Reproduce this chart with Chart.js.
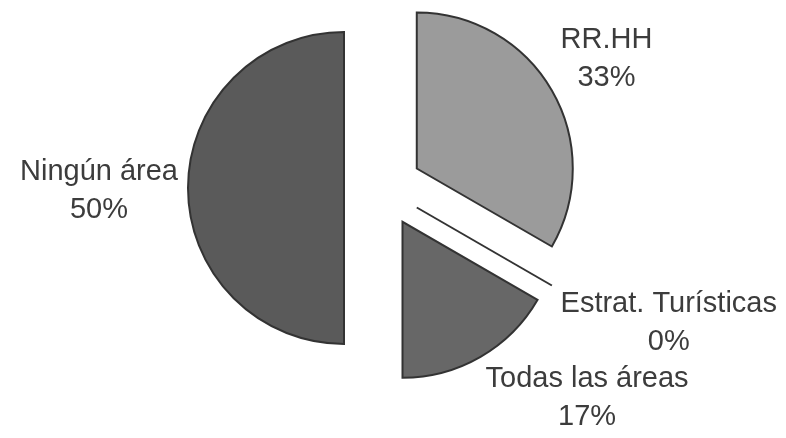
<!DOCTYPE HTML>
<html>
<head>
    <meta charset="utf-8">
    <script src="https://cdn.jsdelivr.net/npm/chart.js"></script>
    <style>
        body { margin: 0; background: white; }
    </style>
</head>
<body>

<canvas id="areaChart" width="786" height="438"></canvas>

<script type="text/javascript">
    // areas de capacitacion
    const areas = ['RR.HH', 'Estrat. Turísticas', 'Todas las áreas', 'Ningún área'];
    const respuestas = [2, 0, 1, 3];
    const colores = ['#9b9b9b', '#676767', '#676767', '#5a5a5a'];

    const total = respuestas.reduce((a, b) => a + b, 0);
    const separacion = 39;   // px each slice is pulled out

    function centroPorcion(arc) {
        const mid = (arc.startAngle + arc.endAngle) / 2;
        return {
            x: arc.x + Math.cos(mid) * separacion,
            y: arc.y + Math.sin(mid) * separacion,
            mid: mid
        };
    }

    // draws the slices pulled out from the center (plain translate,
    // the built-in offset also grows the radius)
    const porcionesSeparadas = {
        id: 'porcionesSeparadas',
        beforeDatasetDraw(chart, args) {
            const ctx = chart.ctx;
            args.meta.data.forEach((arc, i) => {
                const c = centroPorcion(arc);
                if (respuestas[i] === 0) {
                    // empty slice, only its edge
                    const R = arc.outerRadius;
                    ctx.save();
                    ctx.beginPath();
                    ctx.moveTo(c.x, c.y);
                    ctx.lineTo(c.x + Math.cos(arc.startAngle) * R, c.y + Math.sin(arc.startAngle) * R);
                    ctx.lineWidth = 2;
                    ctx.strokeStyle = '#333333';
                    ctx.stroke();
                    ctx.restore();
                    return;
                }
                ctx.save();
                ctx.translate(c.x - arc.x, c.y - arc.y);
                arc.draw(ctx);
                ctx.restore();
            });
            return false;
        }
    };

    const etiquetas = {
        id: 'etiquetas',
        afterDatasetsDraw(chart) {
            const ctx = chart.ctx;
            const arcs = chart.getDatasetMeta(0).data;
            const gap = 10;
            const lineH = 38;
            const capH = 21;
            ctx.save();
            ctx.font = '29px "Liberation Sans", Arial, sans-serif';
            ctx.fillStyle = '#3c3c3c';
            ctx.textAlign = 'center';
            ctx.textBaseline = 'alphabetic';
            arcs.forEach((arc, i) => {
                const c = centroPorcion(arc);
                const R = arc.outerRadius;
                const dx = Math.cos(c.mid), dy = Math.sin(c.mid);
                const ax = c.x + dx * (R + gap);
                const ay = c.y + dy * (R + gap);
                const lines = [areas[i], Math.round(respuestas[i] / total * 100) + '%'];
                const w = Math.max(...lines.map(t => ctx.measureText(t).width));
                const h = lineH + capH;
                const clamp = v => Math.max(-1, Math.min(1, v));
                const bx = ax + clamp(dx * 2) * w / 2;
                const by = ay + clamp(dy * 2) * h / 2;
                const top = by - h / 2;
                ctx.fillText(lines[0], bx, top + capH);
                ctx.fillText(lines[1], bx, top + capH + lineH);
            });
            ctx.restore();
        }
    };

    new Chart(document.getElementById('areaChart'), {
        type: 'pie',
        data: {
            labels: areas,
            datasets: [{
                data: respuestas,
                backgroundColor: colores,
                borderColor: '#333333',
                borderWidth: 2,
                borderJoinStyle: 'miter'
            }]
        },
        options: {
            responsive: false,
            animation: false,
            radius: 156,
            layout: { padding: { left: 0, right: 20, top: 0, bottom: 62 } },
            plugins: {
                legend: { display: false },
                tooltip: { enabled: false }
            }
        },
        plugins: [porcionesSeparadas, etiquetas]
    });
</script>

</body>
</html>
